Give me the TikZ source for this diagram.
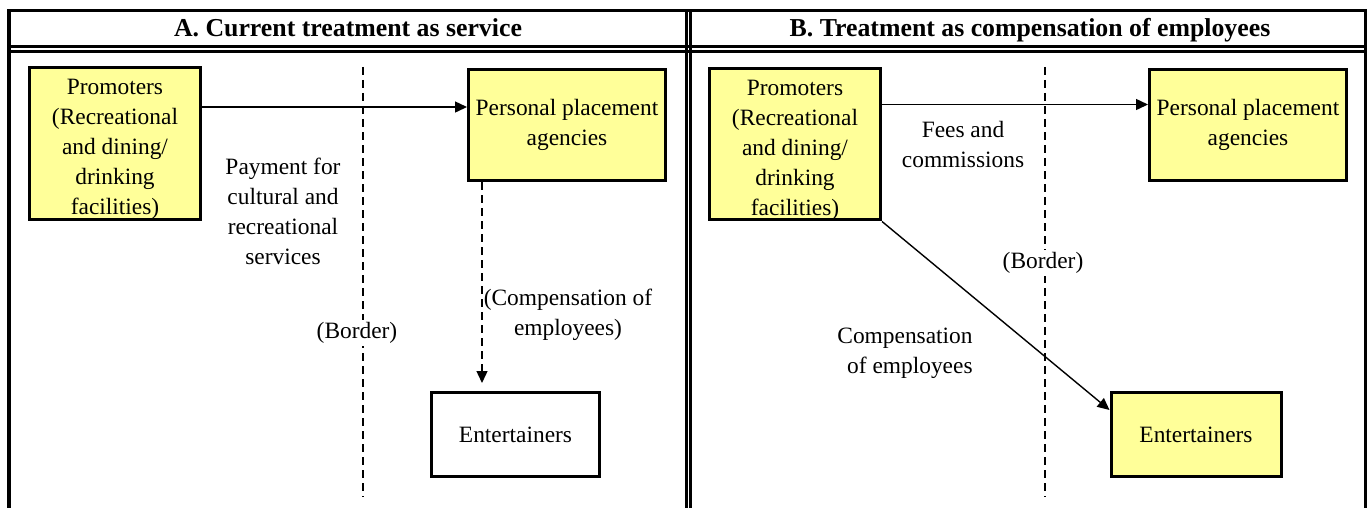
\documentclass[tikz,border=0pt]{standalone}
\usepackage{fontspec}
\setmainfont{Liberation Serif}
\usetikzlibrary{arrows.meta,positioning}
\definecolor{boxfill}{HTML}{FFFF99}

\begin{document}
\begin{tikzpicture}[x=0.5pt,y=-0.5pt,>={Triangle[length=6pt,width=5.5pt]},
    box/.style={draw,line width=1.5pt,fill=boxfill,align=center,inner sep=0pt,font=\fontsize{11.7}{15}\selectfont},
    note/.style={align=center,inner sep=1pt,font=\fontsize{11.7}{15}\selectfont},
    head/.style={anchor=base,font=\fontsize{12.9}{15}\selectfont\bfseries},
    flow/.style={->,line width=0.7pt},
    border/.style={line width=0.6pt,dash pattern=on 4pt off 2.5pt}]
      \useasboundingbox (0,0) rectangle (1369,508);
      % table frame
      \draw[line width=1.75pt] (9,508) -- (9,10.5) -- (1365.5,10.5) -- (1365.5,508);
      \draw[line width=1.35pt] (9,46.5) -- (1365.5,46.5) (9,51.5) -- (1365.5,51.5);
      \draw[line width=1.5pt] (686.5,10.5) -- (686.5,508) (690.5,10.5) -- (690.5,508);
      \node[head] (headA) at (348,37) {A. Current treatment as service};
      \node[head] (headB) at (1030,37) {B. Treatment as compensation of employees};
      % panel A
      \draw[border] (363,67) -- (363,497);
      \node[box,text height=73.5pt,minimum width=85.5pt,minimum height=75pt] (promA) at (115,143.5) {Promoters\\(Recreational\\and dining/\\drinking\\facilities)};
      \node[box,minimum width=98.5pt,minimum height=55.5pt] (persA) at (567,125) {Personal placement\\agencies};
      \node[box,fill=white,minimum width=84pt,minimum height=42pt] (entA) at (515.5,434.5) {Entertainers};
      \draw[flow] ([yshift=-20.5pt]promA.north east) -- ([yshift=-20.5pt]promA.north east -| persA.west);
      \draw[flow,dash pattern=on 4pt off 2.5pt,shorten >=4pt] ([xshift=7.5pt]persA.south west) -- ([xshift=7.5pt]persA.south west |- entA.north);
      \node[note] (payA) at (283,211) {Payment for\\cultural and\\recreational\\services};
      \node[note,fill=white] (bordA) at (357,333) {(Border)};
      \node[note] (compA) at (568,315) {(Compensation of\\employees)};
      % panel B
      \draw[border] (1045,67) -- (1045,497);
      \node[box,text height=73.5pt,minimum width=85.5pt,minimum height=75pt] (promB) at (795,144) {Promoters\\(Recreational\\and dining/\\drinking\\facilities)};
      \node[box,minimum width=98.5pt,minimum height=55.5pt] (persB) at (1248,125) {Personal placement\\agencies};
      \node[box,minimum width=85pt,minimum height=42pt] (entB) at (1196,434.5) {Entertainers};
      \draw[flow] ([yshift=-19pt]promB.north east) -- ([yshift=-19pt]promB.north east -| persB.west);
      \draw[flow] (promB.south east) -- ([yshift=-9.5pt]entB.north west);
      \node[note] (feesB) at (963,144) {Fees and\\commissions};
      \node[note,fill=white] (bordB) at (1043,263) {(Border)};
      \node[note,align=right,anchor=east] (compB) at (975,353) {Compensation\\of employees};
    \end{tikzpicture}
\end{document}
